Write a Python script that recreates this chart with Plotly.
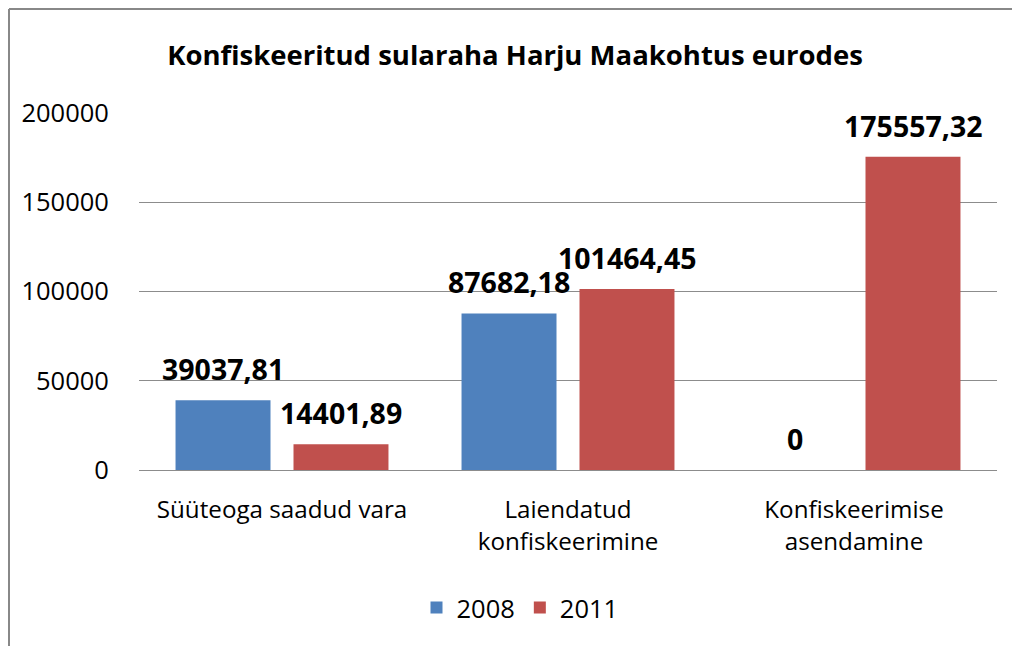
import plotly.graph_objects as go

categories = ["Süüteoga saadud vara", "Laiendatud<br>konfiskeerimine", "Konfiskeerimise<br>asendamine"]
series_names = ["2008", "2011"]
values_2008 = [39037.81, 87682.18, 0]
values_2011 = [14401.89, 101464.45, 175557.32]
labels_2008 = ["39037,81", "87682,18", "0"]
labels_2011 = ["14401,89", "101464,45", "175557,32"]
tick_vals = [0, 50000, 100000, 150000, 200000]

BLUE = "#4F81BD"
RED = "#C0504D"
FONT = "Open Sans"

W, H = 1012, 646
L, R, T, B = 139, 15, 113, 176

fig = go.Figure()
fig.add_trace(go.Bar(x=categories, y=values_2008, name=series_names[0],
                     marker=dict(color=BLUE, line=dict(width=0))))
fig.add_trace(go.Bar(x=categories, y=values_2011, name=series_names[1],
                     marker=dict(color=RED, line=dict(width=0))))

annotations = []
for cat, v, t in zip(categories, values_2008, labels_2008):
    annotations.append(dict(x=cat, y=v, text=t, xref="x", yref="y", showarrow=False,
                            xshift=-59, yshift=31, yanchor="middle",
                            font=dict(family=FONT, size=28.5, color="black", weight="bold")))
for cat, v, t in zip(categories, values_2011, labels_2011):
    annotations.append(dict(x=cat, y=v, text=t, xref="x", yref="y", showarrow=False,
                            xshift=59, yshift=31, yanchor="middle",
                            font=dict(family=FONT, size=28.5, color="black", weight="bold")))

pw = W - L - R
ph = H - T - B
bx0 = (9 - L) / pw
bx1 = (W - L + 2) / pw
by0 = (0 - B - 2) / ph
by1 = (H - B - 9) / ph

fig.update_layout(
    width=W, height=H,
    margin=dict(l=L, r=R, t=T, b=B, autoexpand=False),
    paper_bgcolor="white", plot_bgcolor="white",
    font=dict(family=FONT, color="black"),
    barmode="group", bargap=0.175, bargroupgap=0.195,
    title=dict(text="<b>Konfiskeeritud sularaha Harju Maakohtus eurodes</b>",
               xref="container", yref="container", x=515 / W, y=1 - 55 / H,
               xanchor="center", yanchor="middle",
               font=dict(family=FONT, size=27.5, color="black")),
    legend=dict(orientation="h", xref="container", yref="container",
                x=520 / W, y=1 - 608 / H, xanchor="center", yanchor="middle",
                font=dict(family=FONT, size=25.5, color="black"),
                itemwidth=30, traceorder="normal"),
    annotations=annotations,
    shapes=[
        dict(type="line", xref="paper", yref="paper", x0=bx0, x1=bx1, y0=by1, y1=by1,
             line=dict(color="#888888", width=2), layer="below"),
        dict(type="line", xref="paper", yref="paper", x0=bx0, x1=bx0, y0=by0, y1=by1,
             line=dict(color="#888888", width=2), layer="below"),
    ],
)
fig.update_yaxes(range=[0, 200000], tickvals=tick_vals, ticktext=[str(v) for v in tick_vals],
                 showgrid=True, gridcolor="#8c8c8c", gridwidth=1,
                 zeroline=True, zerolinecolor="#8c8c8c", zerolinewidth=1,
                 showline=False, ticks="outside", ticklen=24, tickcolor="rgba(0,0,0,0)",
                 tickfont=dict(family=FONT, size=25.5, color="black"), fixedrange=True)
fig.update_xaxes(showgrid=False, showline=False, ticks="outside", ticklen=18,
                 tickcolor="rgba(0,0,0,0)", tickangle=0,
                 tickfont=dict(family=FONT, size=24.2, color="black"), fixedrange=True)

fig.write_html("out.html", config={"displayModeBar": False},
               post_script="document.body.style.margin='0';document.body.style.overflow='hidden';")
